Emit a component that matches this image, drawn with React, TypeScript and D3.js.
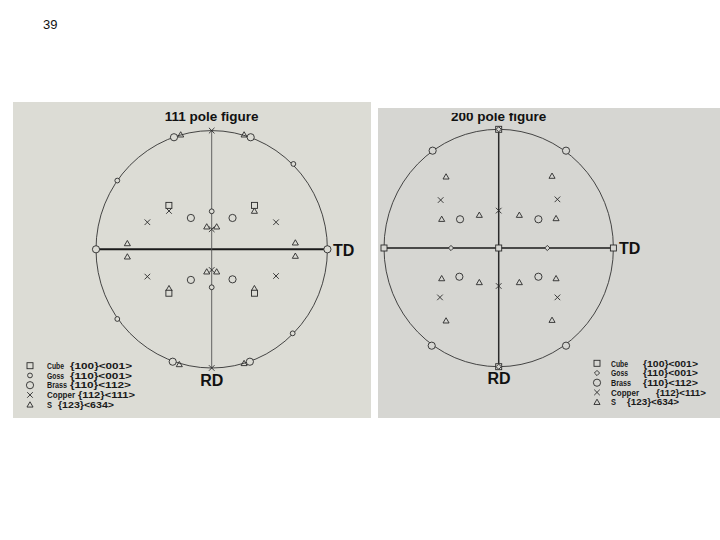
import React from "react";
import * as d3 from "d3";

type Pt = [number, number];

// ---------- Data (normalized projection coordinates, y down = RD) ----------
const P1_CUBE: Pt[] = [[-0.37, -0.37], [0.37, -0.37], [-0.37, 0.37], [0.37, 0.37]];
const P1_GOSS: Pt[] = [[0, -0.32], [0, 0.32], [-0.816, -0.579], [0.706, -0.719], [-0.816, 0.587], [0.7, 0.708]];
const P1_BRASS: Pt[] = [[-0.18, -0.264], [0.18, -0.264], [-0.18, 0.258], [0.18, 0.253], [-1, 0], [1, 0], [-0.326, -0.944], [0.337, -0.944], [-0.337, 0.947], [0.33, 0.947]];
const P1_COPPER: Pt[] = [[0, -1], [0, 1], [-0.556, -0.228], [0.556, -0.228], [-0.556, 0.23], [0.556, 0.225], [-0.369, -0.323], [0, -0.169], [0, 0.174]];
const P1_S: Pt[] = [[-0.043, -0.191], [0.043, -0.191], [-0.043, 0.188], [0.043, 0.188], [-0.729, -0.05], [-0.729, 0.062], [0.723, -0.056], [0.723, 0.056], [-0.268, -0.966], [0.28, -0.966], [-0.28, 0.969], [0.28, 0.96], [0.369, -0.323], [-0.369, 0.329], [0.369, 0.329]];

const P2_CUBE: Pt[] = [[0, -1], [0, 1], [0, 0], [-1, 0], [1, 0]];
const P2_GOSS: Pt[] = [[-0.416, 0], [0.424, 0], [0, -1], [0, 1]];
const P2_BRASS: Pt[] = [[-0.576, -0.82], [0.587, -0.82], [-0.584, 0.823], [0.587, 0.823], [-0.337, -0.242], [0.346, -0.242], [-0.343, 0.242], [0.346, 0.242]];
const P2_COPPER: Pt[] = [[-0.506, -0.404], [0.512, -0.41], [0, -0.315], [0, 0.32], [-0.512, 0.416], [0.512, 0.416]];
const P2_S: Pt[] = [[-0.459, -0.601], [0.465, -0.607], [-0.497, -0.244], [-0.169, -0.278], [0.18, -0.278], [0.5, -0.25], [-0.497, 0.256], [-0.169, 0.289], [0.18, 0.289], [0.5, 0.256], [-0.459, 0.612], [0.465, 0.607]];

const LEGEND_NAMES = ["Cube", "Goss", "Brass", "Copper", "S"];
const LEGEND_CODES = ["{100}<001>", "{110}<001>", "{110}<112>", "{112}<111>", "{123}<634>"];
const TITLES = ["111 pole figure", "200 pole figure"];
const PAGE_LABEL = "39";

type Kind = "square" | "smallcircle" | "circle" | "x" | "triangle" | "diamond";

const INK = "#2a2a2a";
const FONT = "Liberation Sans, Arial, sans-serif";

function Marker({ kind, x, y, bg }: { kind: Kind; x: number; y: number; bg: string }) {
  const sw = 0.9;
  if (kind === "square") {
    return <rect x={x - 3} y={y - 3} width={6} height={6} fill={bg} stroke={INK} strokeWidth={sw} />;
  }
  if (kind === "smallcircle") {
    return <circle cx={x} cy={y} r={2.4} fill={bg} stroke={INK} strokeWidth={sw} />;
  }
  if (kind === "circle") {
    return <circle cx={x} cy={y} r={3.6} fill={bg} stroke={INK} strokeWidth={sw} />;
  }
  if (kind === "x") {
    const s = 2.8;
    return (
      <path d={`M${x - s},${y - s}L${x + s},${y + s}M${x - s},${y + s}L${x + s},${y - s}`} stroke={INK} strokeWidth={sw} fill="none" />
    );
  }
  if (kind === "diamond") {
    const s = 2.6;
    return <path d={`M${x},${y - s}L${x + s},${y}L${x},${y + s}L${x - s},${y}Z`} fill={bg} stroke={INK} strokeWidth={sw} />;
  }
  const p = d3.symbol().type(d3.symbolTriangle).size(16)();
  return <path d={p || ""} transform={`translate(${x},${y + 0.6})`} fill="none" stroke={INK} strokeWidth={sw} />;
}

interface PanelProps {
  rect: { x: number; y: number; w: number; h: number; fill: string };
  cx: number; cy: number; rx: number; ry: number;
  title: string; titleY: number; titleClipTop: number;
  sets: { kind: Kind; pts: Pt[] }[];
  hLineW: number; vLineW: number; vLineColor: string;
  legend: { symX: number; textX: number; nameW: number[]; codeX: number[]; codeW: number[]; y0: number; dy: number; kinds: Kind[] };
  td: { x: number; y: number }; rd: { x: number; y: number };
  clipId: string;
}

function Panel(p: PanelProps) {
  const xs = d3.scaleLinear().domain([-1, 1]).range([p.cx - p.rx, p.cx + p.rx]);
  const ys = d3.scaleLinear().domain([-1, 1]).range([p.cy - p.ry, p.cy + p.ry]);
  const bg = p.rect.fill;
  return (
    <g>
      <defs>
        <clipPath id={p.clipId}>
          <rect x={p.rect.x} y={p.rect.y} width={p.rect.w} height={p.rect.h} />
        </clipPath>
        <clipPath id={p.clipId + "t"}>
          <rect x={p.rect.x} y={p.titleClipTop} width={p.rect.w} height={p.rect.h} />
        </clipPath>
      </defs>
      <rect x={p.rect.x} y={p.rect.y} width={p.rect.w} height={p.rect.h} fill={bg} />
      <g clipPath={`url(#${p.clipId}t)`}>
        <text x={p.cx} y={p.titleY} textAnchor="middle" fontFamily={FONT} fontWeight="bold" fontSize={13.5} fill="#111">{p.title}</text>
      </g>
      <g clipPath={`url(#${p.clipId})`}>
        <ellipse cx={p.cx} cy={p.cy} rx={p.rx} ry={p.ry} fill="none" stroke="#333" strokeWidth={0.9} />
        <line x1={xs(-1)} x2={xs(1)} y1={ys(0)} y2={ys(0)} stroke="#1a1a1a" strokeWidth={p.hLineW} />
        <line x1={xs(0)} x2={xs(0)} y1={ys(-1)} y2={ys(1)} stroke={p.vLineColor} strokeWidth={p.vLineW} />
        {p.sets.map((s, i) => (
          <g key={i}>
            {s.pts.map((d, j) => (
              <Marker key={j} kind={s.kind} x={xs(d[0])} y={ys(d[1])} bg={bg} />
            ))}
          </g>
        ))}
        <text x={p.td.x} y={p.td.y} fontFamily={FONT} fontWeight="bold" fontSize={16} fill="#111">TD</text>
        <text x={p.rd.x} y={p.rd.y} textAnchor="middle" fontFamily={FONT} fontWeight="bold" fontSize={16} fill="#111">RD</text>
        {LEGEND_NAMES.map((n, i) => {
          const y = p.legend.y0 + i * p.legend.dy;
          return (
            <g key={n}>
              <Marker kind={p.legend.kinds[i]} x={p.legend.symX} y={y} bg={bg} />
              <text x={p.legend.textX} y={y + 3.2} fontFamily={FONT} fontWeight="bold" fontSize={8.8} fill="#1a1a1a"
                textLength={p.legend.nameW[i]} lengthAdjust="spacingAndGlyphs">{n}</text>
              <text x={p.legend.codeX[i]} y={y + 3.2} fontFamily={FONT} fontWeight="bold" fontSize={8.8} fill="#1a1a1a"
                textLength={p.legend.codeW[i]} lengthAdjust="spacingAndGlyphs">{LEGEND_CODES[i]}</text>
            </g>
          );
        })}
      </g>
    </g>
  );
}

export default function App() {
  return (
    <svg width={720} height={540} style={{ position: "absolute", left: 0, top: 0, background: "#fff" }}>
      <rect x={0} y={0} width={720} height={540} fill="#fff" />
      <text x={43} y={29} fontFamily={FONT} fontSize={13} fill="#111">{PAGE_LABEL}</text>
      <Panel
        clipId="c1"
        rect={{ x: 13, y: 102, w: 358, h: 316, fill: "#dcdcd5" }}
        cx={211.7} cy={249.3} rx={115.7} ry={118.7}
        title={TITLES[0]} titleY={121} titleClipTop={102}
        sets={[
          { kind: "x", pts: P1_COPPER },
          { kind: "triangle", pts: P1_S },
          { kind: "smallcircle", pts: P1_GOSS },
          { kind: "circle", pts: P1_BRASS },
          { kind: "square", pts: P1_CUBE },
        ]}
        hLineW={2} vLineW={0.9} vLineColor="#555"
        legend={{ symX: 30, textX: 47, nameW: [17, 17, 20, 28, 5], codeX: [70, 70, 70, 78, 58], codeW: [62, 62, 61, 57, 56], y0: 365.7, dy: 9.75, kinds: ["square", "smallcircle", "circle", "x", "triangle"] }}
        td={{ x: 333, y: 255.5 }} rd={{ x: 211.7, y: 386 }}
      />
      <Panel
        clipId="c2"
        rect={{ x: 378, y: 108, w: 342, h: 310, fill: "#d6d6d2" }}
        cx={498.7} cy={248} rx={114.7} ry={118.7}
        title={TITLES[1]} titleY={121} titleClipTop={113}
        sets={[
          { kind: "triangle", pts: P2_S },
          { kind: "x", pts: P2_COPPER },
          { kind: "circle", pts: P2_BRASS },
          { kind: "square", pts: P2_CUBE },
          { kind: "diamond", pts: P2_GOSS },
        ]}
        hLineW={1.5} vLineW={1.5} vLineColor="#2a2a2a"
        legend={{ symX: 597, textX: 611, nameW: [17, 17, 20, 28, 5], codeX: [643, 643, 643, 656, 627], codeW: [55, 55, 55, 50, 52], y0: 363.3, dy: 9.7, kinds: ["square", "diamond", "circle", "x", "triangle"] }}
        td={{ x: 619, y: 254 }} rd={{ x: 499, y: 384 }}
      />
    </svg>
  );
}
